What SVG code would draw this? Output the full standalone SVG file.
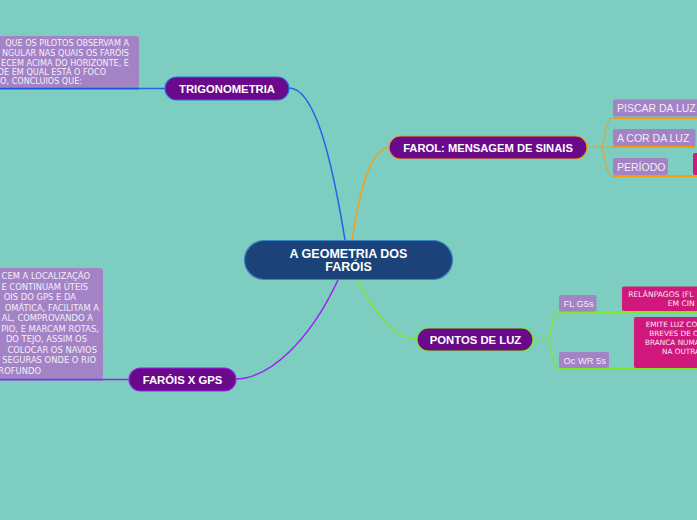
<svg xmlns="http://www.w3.org/2000/svg" width="697" height="520" viewBox="0 0 697 520">
<style>
.node{fill:#6a0a8b;stroke-width:1.2}
.nt{font-family:"Liberation Sans",Arial,sans-serif;font-weight:bold;fill:#ffffff;text-anchor:middle}
.lav{fill:#a383c5}
.mag{fill:#d0187c}
.lt{font-family:"Liberation Sans",Arial,sans-serif;fill:#f2eef6}
.dt{font-family:"DejaVu Sans",Verdana,sans-serif;fill:#f4eef8;text-anchor:end}
.mt{font-family:"DejaVu Sans",Verdana,sans-serif;fill:#f8e8f2}
.c{fill:none;stroke-width:1.5}
</style>
<rect width="697" height="520" fill="#7dcdc1"/>
<g id="connectors">
<path class="c" stroke="#1f66e6" d="M289,88 C315,88 332,160 345,240"/>
<path class="c" stroke="#f0a21c" d="M352,240 C360,190 370,148 390,147"/>
<path class="c" stroke="#a020f0" d="M338,280 C310,340 270,379 235,379"/>
<path class="c" stroke="#7ee81e" d="M358,280 C375,315 395,339 417,339"/>
<path class="c" stroke="#1f66e6" d="M139,88.5 L165,88.5"/>
<path d="M0,88.5 L139,88.5" stroke="#1a58d8" stroke-width="2"/>
<path class="c" stroke="#a020f0" d="M103,379.5 L129,379.5"/>
<path d="M0,379.5 L103,379.5" stroke="#9a22e0" stroke-width="2"/>
<path fill="none" stroke="#dca53a" stroke-width="1.2" d="M587,147 L600,147 C606,147 604,118 613,118 M600,147 L613,147 M600,147 C606,147 604,176 613,176"/>
<path d="M613,118 L697,118 M613,147 L695,147 M613,176 L697,176" stroke="#f59e0b" stroke-width="2"/>
<path fill="none" stroke="#86e03a" stroke-width="1.2" d="M533,340 L546,340 C553,340 551,312 559,312 M546,340 C553,340 551,369 559,369"/>
<path d="M559,312 L697,312 M559,369 L697,369" stroke="#7ee81e" stroke-width="2"/>
</g>
<g id="central">
<rect x="244.5" y="240.5" width="208" height="39" rx="19.5" fill="#1b4379" stroke="#3a86c0" stroke-width="1.2"/>
<text class="nt" x="348.5" y="257.7" font-size="12.5">A GEOMETRIA DOS</text>
<text class="nt" x="348.5" y="271" font-size="12.5">FARÓIS</text>
</g>
<g id="trigonometria">
<rect class="node" x="165" y="77" width="124" height="23" rx="11.5" stroke="#2a6fe8"/>
<text class="nt" x="227" y="93" font-size="11.3">TRIGONOMETRIA</text>
</g>
<g id="trig-desc">
<rect class="lav" x="-5" y="36" width="144" height="51" rx="3"/>
<text class="dt" x="129" y="46" font-size="8.1">QUE OS PILOTOS OBSERVAM A</text>
<text class="dt" x="129" y="55.8" font-size="8.1">NGULAR NAS QUAIS OS FARÓIS</text>
<text class="dt" x="129" y="65.5" font-size="8.1">ECEM ACIMA DO HORIZONTE, E</text>
<text class="dt" x="106" y="75" font-size="8.1">DE EM QUAL ESTÁ O FOCO</text>
<text class="dt" x="82" y="84" font-size="8.1">O, CONCLUIOS QUE:</text>
</g>
<g id="farol">
<rect class="node" x="389" y="136" width="198" height="23" rx="11.5" stroke="#f0a21c"/>
<text class="nt" x="488" y="151.5" font-size="11.2">FAROL: MENSAGEM DE SINAIS</text>
</g>
<g id="piscar">
<rect class="lav" x="613" y="99.5" width="90" height="17" rx="2"/>
<text class="lt" x="617" y="112" font-size="10.5">PISCAR DA LUZ</text>
</g>
<g id="cor">
<rect class="lav" x="613" y="129" width="82.5" height="17" rx="2"/>
<text class="lt" x="617" y="142" font-size="10.5">A COR DA LUZ</text>
</g>
<g id="periodo">
<rect class="lav" x="613" y="158" width="55" height="17" rx="2"/>
<text class="lt" x="617" y="171" font-size="10.5">PERÍODO</text>
</g>
<g id="periodo-desc">
<rect class="mag" x="693" y="153" width="10" height="22" rx="2"/>
</g>
<g id="pontos">
<rect class="node" x="417" y="328" width="116" height="23" rx="11.5" stroke="#7ee81e"/>
<text class="nt" x="475.5" y="344.3" font-size="11.3">PONTOS DE LUZ</text>
</g>
<g id="flg5s">
<rect class="lav" x="559" y="295" width="37.5" height="16.5" rx="2"/>
<text class="lt" x="563.5" y="307" font-size="9.3">FL G5s</text>
</g>
<g id="flg5s-desc">
<rect class="mag" x="622" y="286.5" width="80" height="24.5" rx="2"/>
<text class="mt" x="628.3" y="296.7" font-size="7.6">RELÂNPAGOS (FL</text>
<text class="mt" x="667.7" y="306" font-size="7.6">EM CIN</text>
</g>
<g id="ocwr5s">
<rect class="lav" x="559" y="352" width="50" height="16" rx="2"/>
<text class="lt" x="563.5" y="363.5" font-size="9.3">Oc WR 5s</text>
</g>
<g id="ocwr5s-desc">
<rect class="mag" x="634" y="317" width="68" height="51" rx="2"/>
<text class="mt" x="645.7" y="327.4" font-size="7.3">EMITE LUZ CO</text>
<text class="mt" x="649.3" y="336.4" font-size="7.3">BREVES DE O</text>
<text class="mt" x="645" y="345" font-size="7.3">BRANCA NUMA</text>
<text class="mt" x="662" y="353.6" font-size="7.3">NA OUTRA</text>
</g>
<g id="farois-gps">
<rect class="node" x="129" y="368" width="107" height="23" rx="11.5" stroke="#a020f0"/>
<text class="nt" x="182.5" y="384" font-size="11.3">FARÓIS X GPS</text>
</g>
<g id="gps-desc">
<rect class="lav" x="-5" y="268" width="108" height="110" rx="3"/>
<text class="dt" x="90" y="279.3" font-size="8.4">CEM A LOCALIZAÇÃO</text>
<text class="dt" x="88" y="289.8" font-size="8.4">E CONTINUAM ÚTEIS</text>
<text class="dt" x="76" y="300.3" font-size="8.4">OIS DO GPS E DA</text>
<text class="dt" x="99" y="310.8" font-size="8.4">OMÁTICA, FACILITAM A</text>
<text class="dt" x="93" y="321.3" font-size="8.4">AL, COMPROVANDO A</text>
<text class="dt" x="99" y="331.8" font-size="8.4">PIO, E MARCAM ROTAS,</text>
<text class="dt" x="87" y="342.3" font-size="8.4">DO TEJO, ASSIM OS</text>
<text class="dt" x="97" y="352.8" font-size="8.4">COLOCAR OS NAVIOS</text>
<text class="dt" x="96" y="363.3" font-size="8.4">SEGURAS ONDE O RIO</text>
<text class="dt" x="41" y="373.6" font-size="8.4">ROFUNDO</text>
</g>
</svg>
